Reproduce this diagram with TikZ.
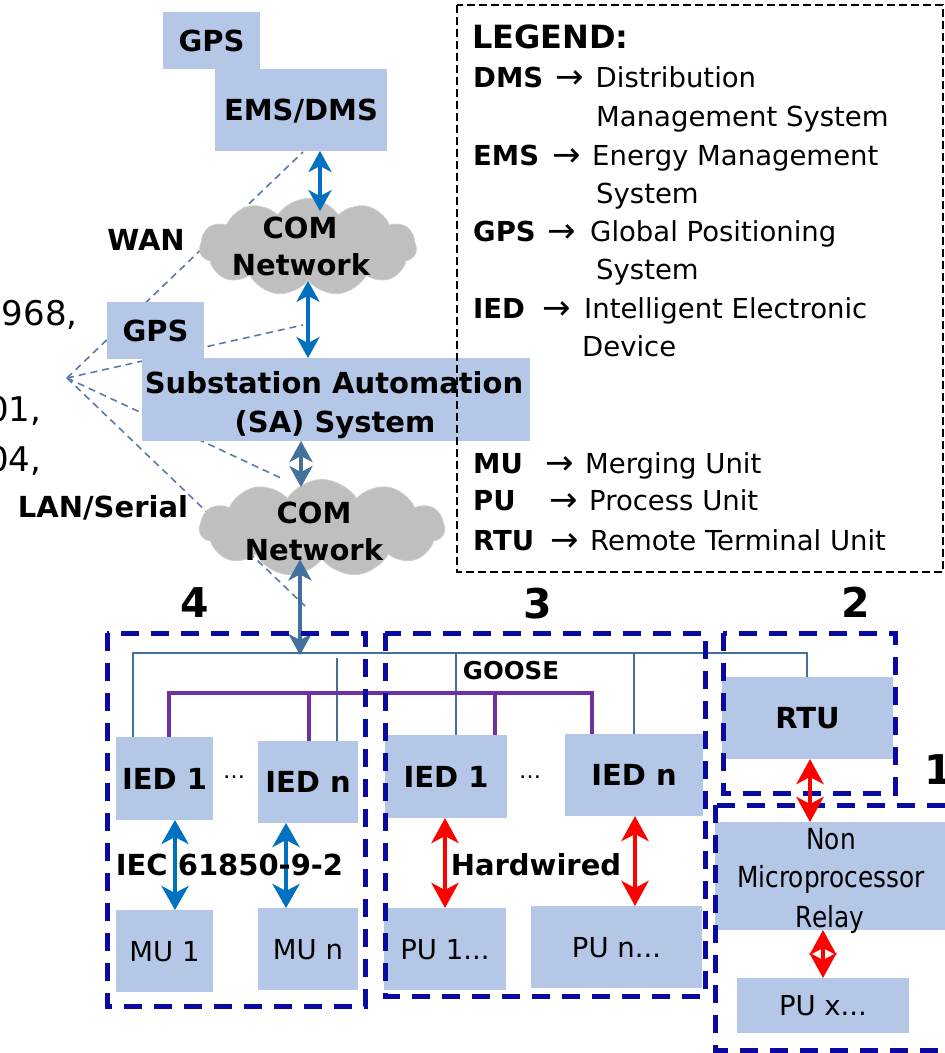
\documentclass[tikz,border=0pt]{standalone}
\usepackage{fontspec}
\setmainfont{DejaVu Sans}
\newfontfamily\narrowsans[FakeStretch=0.855]{DejaVu Sans}
\usetikzlibrary{arrows.meta,shapes.symbols}

\definecolor{boxfill}{RGB}{180,199,231}
\definecolor{cloudgray}{RGB}{191,191,191}
\definecolor{linkblue}{RGB}{0,112,192}
\definecolor{steel}{RGB}{65,113,156}
\definecolor{goosecol}{RGB}{112,48,160}
\definecolor{zonecol}{RGB}{10,10,160}
\definecolor{fanline}{RGB}{90,122,170}
\definecolor{wirered}{RGB}{255,0,0}

\begin{document}
\begin{tikzpicture}[x=1pt,y=-1pt,
  box/.style={fill=boxfill, draw=none, inner sep=0pt, outer sep=0pt},
  bold29/.style={font=\fontsize{29}{34}\selectfont\bfseries, text height=21pt, text depth=0pt, inner sep=0pt},
  bold24/.style={font=\fontsize{24.5}{29}\selectfont\bfseries, text height=18pt, text depth=0pt, inner sep=0pt},
  reg27/.style={font=\fontsize{27.5}{33}\selectfont, text height=20pt, text depth=0pt, inner sep=0pt},
  nar/.style={font={\narrowsans\fontsize{29}{34}\selectfont}, text height=21pt, text depth=0pt, inner sep=0pt},
  num/.style={font=\fontsize{41}{48}\selectfont\bfseries, text height=30pt, text depth=0pt, inner sep=0pt},
  side/.style={font=\fontsize{34}{40}\selectfont, inner sep=0pt, anchor=base west},
  lgt/.style={font=\fontsize{27.5}{33}\selectfont, inner sep=0pt, anchor=base west},
  lgk/.style={font=\fontsize{27.5}{33}\selectfont\bfseries, inner sep=0pt, anchor=base west},
  lga/.style={font=\fontsize{34}{40}\selectfont, inner sep=0pt, anchor=base west},
  dotsn/.style={font=\fontsize{22}{26}\selectfont, inner sep=0pt, anchor=base},
  cloudnode/.style={cloud, cloud puffs=11, cloud puff arc=115, cloud ignores aspect,
    fill=cloudgray, draw=cloudgray!80!white, line width=0.8pt, inner sep=0pt},
  fanlink/.style={draw=fanline, line width=1.6pt, dash pattern=on 7pt off 5pt},
  link/.style={draw=linkblue, line width=3.5pt,
    {Stealth[length=21pt,width=23pt,inset=6pt]}-{Stealth[length=21pt,width=23pt,inset=6pt]}},
  steellink/.style={draw=steel, line width=3.8pt,
    {Stealth[length=21pt,width=23pt,inset=6pt]}-{Stealth[length=21pt,width=23pt,inset=6pt]}},
  mulink/.style={draw=linkblue, line width=4.5pt,
    {Stealth[length=24pt,width=27pt,inset=7pt]}-{Stealth[length=24pt,width=27pt,inset=7pt]}},
  hard/.style={draw=wirered, line width=4.5pt,
    {Stealth[length=25pt,width=27pt,inset=7pt]}-{Stealth[length=25pt,width=27pt,inset=7pt]}},
  bus/.style={draw=steel, line width=2.6pt},
  gooseline/.style={draw=goosecol, line width=4.2pt},
  zone/.style={draw=zonecol, line width=5pt, dash pattern=on 18pt off 12pt},
  legendframe/.style={draw=black, line width=1.4pt, dash pattern=on 8pt off 4pt}
]
\useasboundingbox (0,0) rectangle (945,1053);
\fill[white] (0,0) rectangle (945,1053);

% ---- dashed fan of communication links
\coordinate (fan) at (67,378);
\coordinate (f1) at (303,152);
\coordinate (f2) at (303,325);
\coordinate (f3) at (283,479);
\coordinate (f4) at (305,606);
\foreach \e in {f1,f2,f3,f4} \draw[fanlink] (fan) -- (\e);

% ---- control centre level
\node[box, minimum width=97pt, minimum height=57pt, bold29] (gpsTop) at (211.5,40.5) {GPS};
\node[box, minimum width=172pt, minimum height=82pt, bold29] (ems) at (301,110) {EMS/DMS};
\node[cloudnode, minimum width=217pt, minimum height=97pt] (cloud1) at (308,247) {};
\node[bold29] (c1a) at (300,228) {COM};
\node[bold29] (c1b) at (301,265) {Network};
\node[bold29] (wan) at (146,240) {WAN};

% ---- substation level
\node[box, minimum width=97pt, minimum height=57pt, bold29] (gpsSub) at (155.5,330.5) {GPS};
\node[box, minimum width=388pt, minimum height=83pt] (sa) at (336,399.5) {};
\node[bold29] (saL1) at (334,383) {Substation Automation};
\node[bold29] (saL2) at (335,422) {(SA) System};
\node[cloudnode, minimum width=245pt, minimum height=97pt] (cloud2) at (322,528) {};
\node[bold29] (c2a) at (314,513) {COM};
\node[bold29] (c2b) at (314,550) {Network};
\node[bold29] (lan) at (103,507) {LAN/Serial};

% ---- protocol names running off the left edge
\node[side] (s1) at (-20,325) {1968,};
\node[side] (s2) at (-13,421) {01,};
\node[side] (s3) at (-13,471) {04,};

% ---- links between the upper levels
\coordinate (xa1) at (320,0);
\coordinate (xa2) at (308,0);
\coordinate (xa3) at (301,0);
\coordinate (xa4) at (300,0);
\coordinate (busL) at (133,653);
\coordinate (busR) at (807,653);
\draw[link, shorten >=-13pt] (ems.south -| xa1) -- (cloud1.north -| xa1);
\draw[link] (cloud1.south -| xa2) -- (sa.north -| xa2);
\draw[steellink, shorten >=-8pt] (sa.south -| xa3) -- (cloud2.north -| xa3);
\draw[steellink, shorten >=-2pt] (cloud2.south -| xa4) -- (busL -| xa4);

% ---- bay level devices
\node[box, minimum width=97pt, minimum height=83pt, bold29] (ied4a) at (164.5,778.5) {IED 1};
\node[box, minimum width=100pt, minimum height=82pt, bold29] (ied4n) at (308,782) {IED n};
\node[box, minimum width=122pt, minimum height=83pt, bold29] (ied3a) at (446,776.5) {IED 1};
\node[box, minimum width=138pt, minimum height=82pt, bold29] (ied3n) at (634,775) {IED n};
\node[box, minimum width=171pt, minimum height=82pt, bold29] (rtu) at (807.5,718) {RTU};
\node[box, minimum width=97pt, minimum height=82pt, reg27] (mu1) at (164.5,951) {MU 1};
\node[box, minimum width=100pt, minimum height=82pt, reg27] (mun) at (308,949) {MU n};
\node[box, minimum width=122pt, minimum height=82pt, reg27] (pu1) at (445,949) {PU 1...};
\node[box, minimum width=171pt, minimum height=82pt, reg27] (pun) at (616.5,947) {PU n...};
\node[box, minimum width=232pt, minimum height=108pt] (nmr) at (831,876) {};
\node[nar] (nmr1) at (831,839) {Non};
\node[nar] (nmr2) at (831,877) {Microprocessor};
\node[nar] (nmr3) at (830,917) {Relay};
\node[box, minimum width=172pt, minimum height=55pt, reg27] (pux) at (823,1005.5) {PU x...};
\node[dotsn] (d4) at (234,778) {…};
\node[dotsn] (d3) at (530,778) {…};

% ---- station bus
\coordinate (xb2) at (337,0);
\coordinate (xb3) at (456,0);
\coordinate (xb4) at (634,0);
\draw[bus] (ied4a.north -| busL) -- (busL) -- (busR) -- (rtu.north -| busR);
\draw[bus, shorten >=5pt] (ied4n.north -| xb2) -- (busL -| xb2);
\draw[bus] (ied3a.north -| xb3) -- (busL -| xb3);
\draw[bus] (ied3n.north -| xb4) -- (busL -| xb4);

% ---- GOOSE peer-to-peer bus
\coordinate (gL) at (169,693);
\coordinate (gR) at (592,693);
\coordinate (xg2) at (309,0);
\coordinate (xg3) at (495,0);
\draw[gooseline] (ied4a.north -| gL) -- (gL) -- (gR) -- (ied3n.north -| gR);
\draw[gooseline] (ied4n.north -| xg2) -- (gL -| xg2);
\draw[gooseline] (ied3a.north -| xg3) -- (gL -| xg3);
\node[bold24] (goose) at (511,670) {GOOSE};

% ---- architecture zones
\draw[zone] (107,633) rectangle (365,1006);
\draw[zone] (385,633) rectangle (705,996);
\draw[zone] (723,633) rectangle (895,793);
\draw[zone] (715,805) rectangle (990,1050);
\node[num] (n4) at (195,602) {4};
\node[num] (n3) at (538,603) {3};
\node[num] (n2) at (856,602) {2};
\node[num] (n1) at (939,769) {1};

% ---- process links
\coordinate (xm1) at (175,0);
\coordinate (xm2) at (286,0);
\coordinate (xp1) at (445,0);
\coordinate (xp2) at (635,0);
\coordinate (xr1) at (810,0);
\coordinate (xr2) at (823,0);
\draw[mulink] (ied4a.south -| xm1) -- (mu1.north -| xm1);
\draw[mulink] (ied4n.south -| xm2) -- (mun.north -| xm2);
\draw[hard] (ied3a.south -| xp1) -- (pu1.north -| xp1);
\draw[hard] (ied3n.south -| xp2) -- (pun.north -| xp2);
\draw[hard] (rtu.south -| xr1) -- (nmr.north -| xr1);
\draw[hard] (nmr.south -| xr2) -- (pux.north -| xr2);
\node[bold29] (iec) at (229.5,865) {IEC 61850-9-2};
\node[bold29] (hw) at (536,865) {Hardwired};

% ---- legend
\draw[legendframe] (457,5) rectangle (943,572);
\node[lgk, font=\fontsize{32}{38}\selectfont\bfseries] (lgTitle) at (472,48) {LEGEND:};
\node[lgk] (kDMS) at (473,87) {DMS};
\node[lga] (aDMS) at (555,88) {→};
\node[lgt] (tDMS) at (595.5,87) {Distribution};
\node[lgt] (tDMS2) at (596,126) {Management System};
\node[lgk] (kEMS) at (473,165) {EMS};
\node[lga] (aEMS) at (552,166) {→};
\node[lgt] (tEMS) at (592,165) {Energy Management};
\node[lgt] (tEMS2) at (596,203) {System};
\node[lgk] (kGPS) at (473,241) {GPS};
\node[lga] (aGPS) at (547,242) {→};
\node[lgt] (tGPS) at (590,241) {Global Positioning};
\node[lgt] (tGPS2) at (596,279) {System};
\node[lgk] (kIED) at (473,318) {IED};
\node[lga] (aIED) at (542,319) {→};
\node[lgt] (tIED) at (584,318) {Intelligent Electronic};
\node[lgt] (tIED2) at (582,356) {Device};
\node[lgk] (kMU) at (473,473) {MU};
\node[lga] (aMU) at (545,474) {→};
\node[lgt] (tMU) at (585,473) {Merging Unit};
\node[lgk] (kPU) at (473,510) {PU};
\node[lga] (aPU) at (549,511) {→};
\node[lgt] (tPU) at (589,510) {Process Unit};
\node[lgk] (kRTU) at (473,550) {RTU};
\node[lga] (aRTU) at (550,551) {→};
\node[lgt] (tRTU) at (590,550) {Remote Terminal Unit};
\end{tikzpicture}
\end{document}
